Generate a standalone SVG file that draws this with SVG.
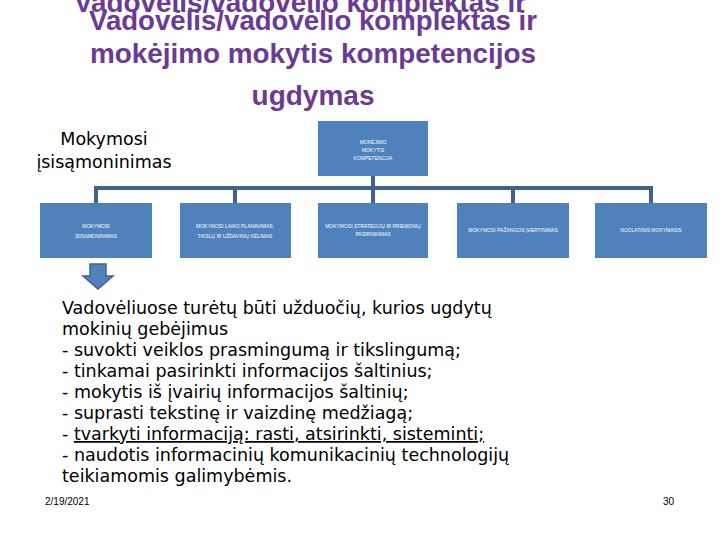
<svg xmlns="http://www.w3.org/2000/svg" width="720" height="540" viewBox="0 0 720 540">
<style>
.t{font-family:"Liberation Sans",Arial,sans-serif;font-weight:bold;font-size:28px;fill:#6b3a94;text-anchor:middle}
.b{fill:#4f81bd}
.s{font-family:"Liberation Sans",Arial,sans-serif;font-size:5px;fill:#fff;text-anchor:middle}
.v{font-family:"DejaVu Sans",Verdana,sans-serif;font-size:17.5px;fill:#000}
.c{stroke:#3f6290;stroke-width:4;fill:none}
</style>
<rect width="720" height="540" fill="#fff"/>
<text class="t" x="300" y="12" textLength="452" lengthAdjust="spacingAndGlyphs">Vadovėlis/vadovėlio komplektas ir</text>
<text class="t" x="313" y="30" textLength="448" lengthAdjust="spacingAndGlyphs">Vadovėlis/vadovėlio komplektas ir</text>
<text class="t" x="313" y="63" textLength="446" lengthAdjust="spacingAndGlyphs">mokėjimo mokytis kompetencijos</text>
<text class="t" x="313" y="105">ugdymas</text>
<text class="v" x="104" y="145" text-anchor="middle">Mokymosi</text>
<text class="v" x="104" y="168" text-anchor="middle">įsisąmoninimas</text>
<g id="connectors">
<path class="c" d="M373 176V188M96 203V188H651V203M235 188V203M373 188V203M513 188V203"/>
</g>
<g id="top"><rect class="b" x="318" y="121" width="110" height="55"/>
<text class="s" x="373" y="144">MOKĖJIMO</text><text class="s" x="373" y="152">MOKYTIS</text><text class="s" x="373" y="160">KOMPETENCIJA</text></g>
<g id="n1"><rect class="b" x="40" y="203" width="112" height="55"/>
<text class="s" x="96" y="228">MOKYMOSI</text><text class="s" x="96" y="238">ĮSISĄMONINIMAS</text></g>
<g id="n2"><rect class="b" x="180" y="203" width="111" height="55"/>
<text class="s" x="235" y="228">MOKYMOSI LAIKO PLANAVIMAS,</text><text class="s" x="235" y="238">TIKSLŲ IR UŽDAVINIŲ KĖLIMAS</text></g>
<g id="n3"><rect class="b" x="318" y="203" width="110" height="55"/>
<text class="s" x="373" y="228">MOKYMOSI STRATEGIJŲ IR PRIEMONIŲ</text><text class="s" x="373" y="236">PASIRINKIMAS</text></g>
<g id="n4"><rect class="b" x="457" y="203" width="112" height="55"/>
<text class="s" x="513" y="232">MOKYMOSI PAŽANGOS ĮVERTINIMAS</text></g>
<g id="n5"><rect class="b" x="595" y="203" width="112" height="55"/>
<text class="s" x="651" y="232">NUOLATINIS MOKYMASIS</text></g>
<g id="arrow"><path d="M90 264H106V276H113L98 289L83 276H90Z" fill="#4f81bd" stroke="#3f6290" stroke-width="1.5"/></g>
<g class="v">
<text x="62" y="314">Vadovėliuose turėtų būti užduočių, kurios ugdytų</text>
<text x="62" y="335">mokinių gebėjimus</text>
<text x="62" y="356">- suvokti veiklos prasmingumą ir tikslingumą;</text>
<text x="62" y="377">- tinkamai pasirinkti informacijos šaltinius;</text>
<text x="62" y="398">- mokytis iš įvairių informacijos šaltinių;</text>
<text x="62" y="419">- suprasti tekstinę ir vaizdinę medžiagą;</text>
<text x="62" y="440">- <tspan text-decoration="underline">tvarkyti informaciją: rasti, atsirinkti, sisteminti;</tspan></text>
<text x="62" y="461">- naudotis informacinių komunikacinių technologijų</text>
<text x="62" y="482">teikiamomis galimybėmis.</text>
</g>
<text x="45" y="505" font-family="Liberation Sans,Arial,sans-serif" font-size="10">2/19/2021</text>
<text x="663" y="505" font-family="Liberation Sans,Arial,sans-serif" font-size="10">30</text>
</svg>
